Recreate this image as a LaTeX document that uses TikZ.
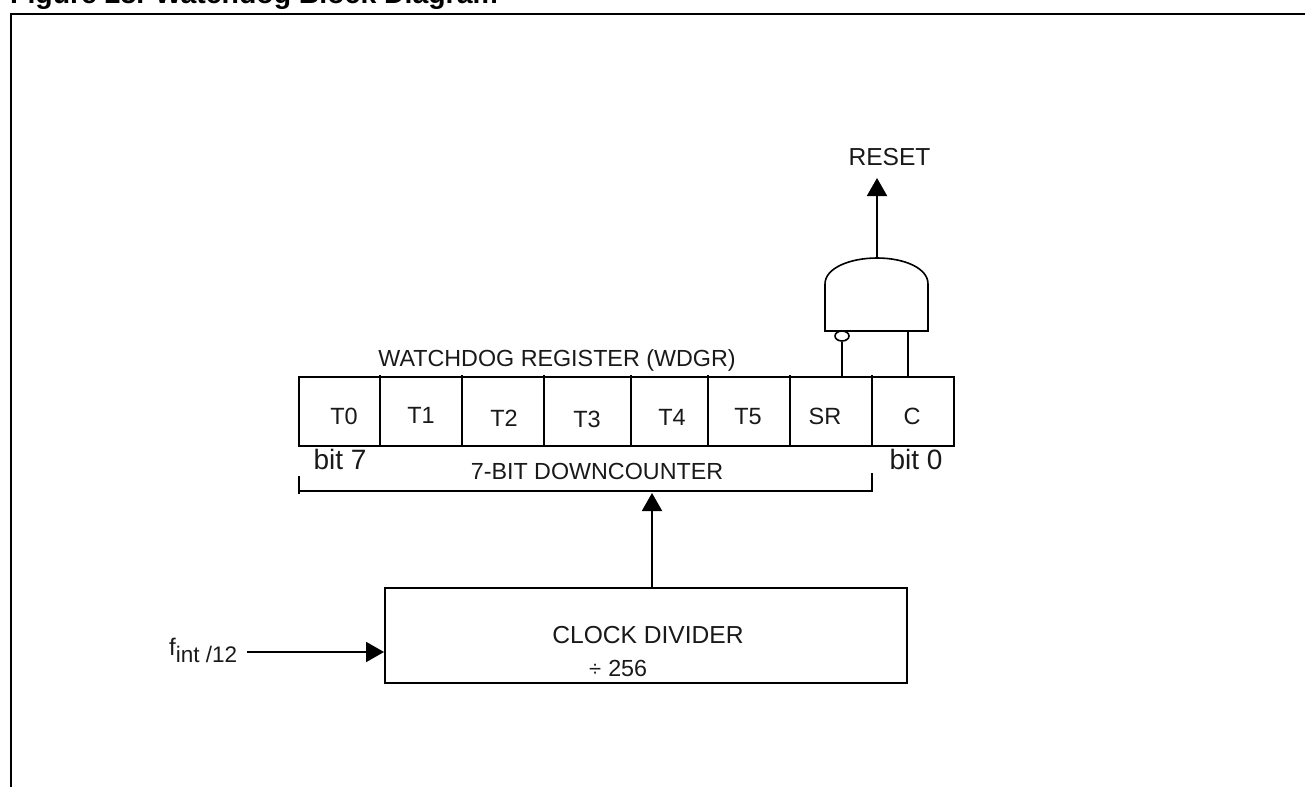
\documentclass[tikz,border=0pt]{standalone}
\usepackage{fontspec}
\setmainfont{Liberation Sans}
\usetikzlibrary{arrows.meta,shapes.geometric}
\tikzset{
  x=1pt,y=-1pt,
  wire/.style={line width=2pt,line cap=butt},
  thin wire/.style={line width=1.6pt},
  arrowed/.style={wire,-{Triangle[length=18pt,width=20pt]}},
  lab/.style={inner sep=0pt,anchor=base,font=\fontsize{23.3}{25}\selectfont,text=black!90},
  big/.style={lab,font=\fontsize{24.6}{26}\selectfont},
  small/.style={lab,font=\fontsize{28}{30}\selectfont,text=black!90},
  cell/.style={inner sep=0pt,anchor=base,font=\fontsize{23.5}{25}\selectfont,text=black!90}
}
\begin{document}
\begin{tikzpicture}
\useasboundingbox (0,0) rectangle (1305,787);
% Title, cropped at the top edge as in the reference
\begin{scope}
\clip (0,0) rectangle (1305,787);
\node[inner sep=0pt,anchor=base west,font=\bfseries\fontsize{28.4}{30}\selectfont] (title) at (10,3) {Figure 28. Watchdog Block Diagram};
\end{scope}
% Frame
\coordinate (fbl) at (11,787);
\coordinate (ftl) at (11,14);
\coordinate (ftr) at (1305,14);
\draw[wire] (fbl) -- (ftl) -- (ftr);
% Register
\coordinate (rtl) at (299,377);
\coordinate (rbr) at (954,446);
\draw[thin wire] (rtl) rectangle (rbr);
\foreach \xx in {380,462,544,631,708,790,872}
  \draw[thin wire] (\xx,375) -- (\xx,447);
\node[cell] (t0) at (344,424) {T0};
\node[cell] (t1) at (421,423) {T1};
\node[cell] (t2) at (504,426) {T2};
\node[cell] (t3) at (587,427) {T3};
\node[cell] (t4) at (672,425) {T4};
\node[cell] (t5) at (748,424) {T5};
\node[cell] (sr) at (825,424) {SR};
\node[cell] (c) at (912,424) {C};
\node[lab] (wd) at (557,366) {WATCHDOG REGISTER (WDGR)};
\node[small] (b7) at (340,469) {bit 7};
\node[small] (b0) at (916,469) {bit 0};
\node[lab] (dc) at (597,479) {7-BIT DOWNCOUNTER};
% Bracket
\coordinate (bl) at (299,491);
\coordinate (br) at (872,491);
\draw[thin wire] (299,476) -- (299,494);
\draw[thin wire] (bl) -- (br) -- (872,473);
% AND gate
\coordinate (gbl) at (825,331);
\coordinate (gbr) at (928,331);
\coordinate (gtop) at (877,258);
\draw[thin wire] (gbl) -- (825,284) .. controls (825,268) and (850,258) .. (gtop) .. controls (904,258) and (928,268) .. (928,284) -- (gbr) -- cycle;
\node[draw,ellipse,thin wire,minimum width=14pt,minimum height=10pt,inner sep=0pt] (bub) at (842,336) {};
\coordinate (srt) at (842,377);
\coordinate (ct) at (908,377);
\coordinate (cb) at (908,331);
\draw[thin wire] (srt) -- (bub.south);
\draw[thin wire] (ct) -- (cb);
% Reset
\node[big] (reset) at (889.5,165) {RESET};
\coordinate (rtip) at (877,178);
\draw[arrowed] (gtop) -- (rtip);
% Clock divider
\node[draw,wire,minimum width=522pt,minimum height=95pt,inner sep=0pt] (div) at (646,635.5) {};
\node[big] (cd) at (648,643) {CLOCK DIVIDER};
\node[lab,anchor=base west] (d256) at (589,676) {{\fontsize{22}{22}\selectfont ÷}\hspace{7pt}256};
\coordinate (up) at (652,493);
\draw[arrowed] (652,588) -- (up);
% Input
\node[inner sep=0pt,anchor=base west,font=\fontsize{24}{26}\selectfont,text=black!90] (f) at (169,655) {f\raisebox{-7pt}{\fontsize{22.5}{24}\selectfont int /12}};
\coordinate (fs) at (247,652);
\draw[arrowed] (fs) -- (div.west |- fs);
\end{tikzpicture}
\end{document}
